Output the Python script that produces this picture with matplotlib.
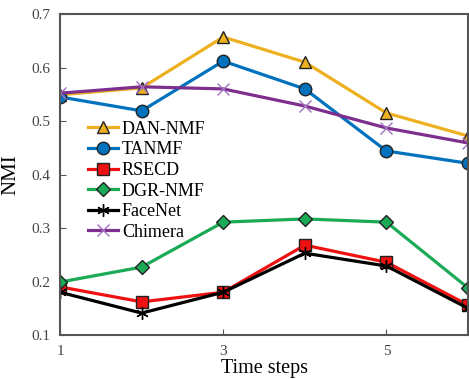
import matplotlib
matplotlib.use("Agg")
import matplotlib.pyplot as plt

plt.rcParams['font.family'] = ['Liberation Serif', 'DejaVu Serif']

steps = [1, 2, 3, 4, 5, 6]
dan_nmf = [0.549, 0.562, 0.657, 0.610, 0.515, 0.472]
tanmf = [0.545, 0.519, 0.612, 0.560, 0.444, 0.421]
rsecd = [0.190, 0.162, 0.180, 0.268, 0.236, 0.156]
dgr_nmf = [0.199, 0.227, 0.311, 0.317, 0.311, 0.188]
facenet = [0.180, 0.141, 0.180, 0.253, 0.229, 0.150]
chimera = [0.552, 0.564, 0.560, 0.528, 0.487, 0.459]

fig = plt.figure(figsize=(4.69, 3.79), dpi=100)
ax = fig.add_axes([0.128, 0.116, 0.870, 0.847])

ax.plot(steps, dan_nmf, color='#EDB120', lw=2.3, marker='^', ms=8, mec='#222222', mew=1, label='DAN-NMF')
ax.plot(steps, tanmf, color='#0072BD', lw=2.3, marker='o', ms=9, mec='#222222', mew=1, label='TANMF')
ax.plot(steps, rsecd, color='#EE1111', lw=2.3, marker='s', ms=9, mec='#222222', mew=1, label='RSECD')
ax.plot(steps, dgr_nmf, color='#1BAA55', lw=2.3, marker='D', ms=7, mec='#222222', mew=1, label='DGR-NMF')
ax.plot(steps, facenet, color='black', lw=2.3, marker=(6, 2, 0), ms=9, mew=1, label='FaceNet')
ax.plot(steps, chimera, color='#7E2F8E', lw=2.3, marker='x', ms=9, mec='#A070C0', mew=1, label='Chimera')

ax.set_xlim(1, 6)
ax.set_ylim(0.1, 0.7)
ax.set_xticks([1, 3, 5])
ax.set_yticks([0.1, 0.2, 0.3, 0.4, 0.5, 0.6, 0.7])
ax.set_yticklabels(['0.1', '0.2', '0.3', '0.4', '0.5', '0.6', '0.7'])
ax.tick_params(direction='in', labelsize=11, labelcolor='#444444', color='#555555', length=4, pad=7)
for s in ax.spines.values():
    s.set_color('#555555')
    s.set_linewidth(1.5)

ax.set_xlabel('Time steps', fontsize=14.5, labelpad=1)
ax.set_ylabel('NMI', fontsize=15, labelpad=8)

ax.legend(loc='upper left', bbox_to_anchor=(0.05, 0.69), frameon=False, fontsize=13,
          handlelength=1.7, handletextpad=0.2, labelspacing=0.2, borderaxespad=0)

fig.savefig('out.png', dpi=100)
